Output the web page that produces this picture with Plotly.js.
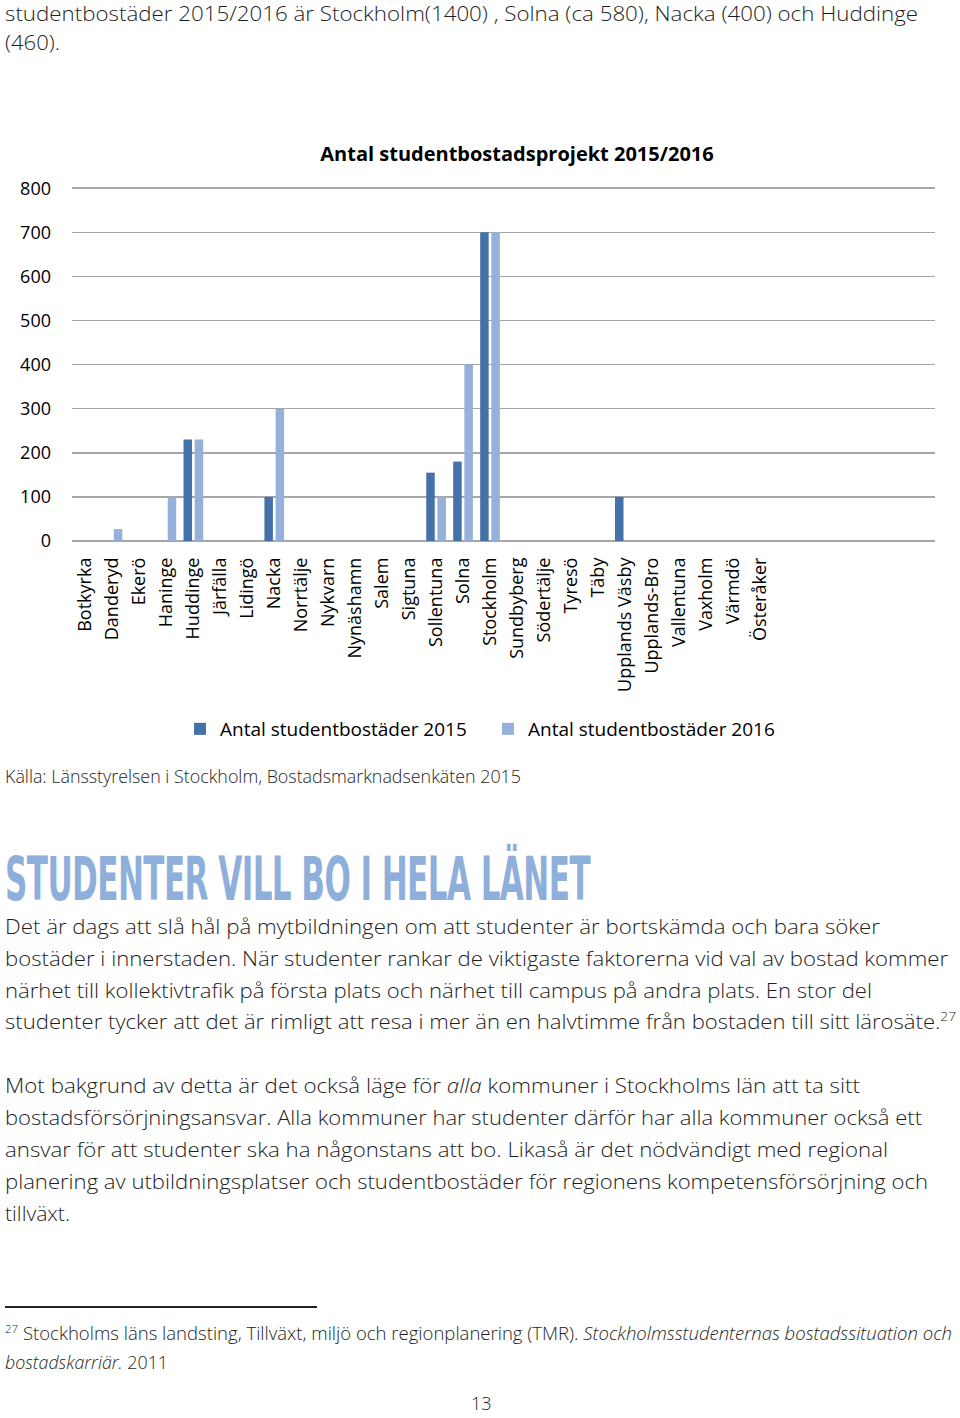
<!DOCTYPE html>
<html>
<head>
<meta charset="utf-8">
<script src="https://cdn.plot.ly/plotly-3.0.1.min.js"></script>
<style>
  html, body { margin: 0; padding: 0; background: #fff; }
  #page { position: relative; width: 960px; height: 1418px; overflow: hidden; background: #fff; }
  #chart { position: absolute; left: 0; top: 0; width: 960px; height: 760px; }
  .ln { position: absolute; left: 5px; white-space: nowrap; font-family: "Open Sans", sans-serif; font-weight: 300;
        font-size: 21px; line-height: 32px; color: #1e1e1e; transform-origin: 0 0; display: inline-block; }
  .fn { font-size: 18px; line-height: 26px; }
  #heading { position: absolute; left: 5px; top: 849px; white-space: nowrap; font-family: "Liberation Sans Narrow", "DejaVu Sans Condensed", sans-serif;
        font-weight: 700; font-size: 60px; line-height: 60px; color: #8fafdb; transform-origin: 0 0; display: inline-block; letter-spacing: -1px; }
  sup { font-size: 0.62em; line-height: 0; vertical-align: 0.6em; }
  #rule { position: absolute; left: 5px; top: 1306px; width: 312px; height: 2px; background: #222; }
</style>
</head>
<body>
<div id="page">
  <div id="chart"></div>

  <div class="ln" data-w="913" style="top:0px; line-height:26px;">studentbostäder 2015/2016 är Stockholm(1400) , Solna (ca 580), Nacka (400) och Huddinge</div>
  <div class="ln" data-w="55" style="top:26px;">(460).</div>

  <div class="ln" data-w="516" style="top:760px; font-size:19px;">Källa: Länsstyrelsen i Stockholm, Bostadsmarknadsenkäten 2015</div>

  <div id="heading" data-w="585">STUDENTER VILL BO I HELA LÄNET</div>

  <div class="ln" data-w="875" style="top:910px;">Det är dags att slå hål på mytbildningen om att studenter är bortskämda och bara söker</div>
  <div class="ln" data-w="943" style="top:942px;">bostäder i innerstaden. När studenter rankar de viktigaste faktorerna vid val av bostad kommer</div>
  <div class="ln" data-w="867" style="top:974px;">närhet till kollektivtrafik på första plats och närhet till campus på andra plats. En stor del</div>
  <div class="ln" data-w="951" style="top:1005px;">studenter tycker att det är rimligt att resa i mer än en halvtimme från bostaden till sitt lärosäte.<sup>27</sup></div>

  <div class="ln" data-w="855" style="top:1069px;">Mot bakgrund av detta är det också läge för <i>alla</i> kommuner i Stockholms län att ta sitt</div>
  <div class="ln" data-w="917" style="top:1101px;">bostadsförsörjningsansvar. Alla kommuner har studenter därför har alla kommuner också ett</div>
  <div class="ln" data-w="883" style="top:1133px;">ansvar för att studenter ska ha någonstans att bo. Likaså är det nödvändigt med regional</div>
  <div class="ln" data-w="923" style="top:1165px;">planering av utbildningsplatser och studentbostäder för regionens kompetensförsörjning och</div>
  <div class="ln" data-w="65" style="top:1197px;">tillväxt.</div>

  <div id="rule"></div>
  <div class="ln fn" data-w="947" style="top:1320px;"><sup>27</sup> Stockholms läns landsting, Tillväxt, miljö och regionplanering (TMR). <i>Stockholmsstudenternas bostadssituation och</i></div>
  <div class="ln fn" data-w="163" style="top:1349px;"><i>bostadskarriär.</i> 2011</div>

  <div class="ln fn" style="top:1394px; left:471px; line-height:18px;">13</div>
</div>

<script>
// ---- Data ----
const categories = ['Botkyrka','Danderyd','Ekerö','Haninge','Huddinge','Järfälla','Lidingö','Nacka','Norrtälje','Nykvarn',
  'Nynäshamn','Salem','Sigtuna','Sollentuna','Solna','Stockholm','Sundbyberg','Södertälje','Tyresö','Täby',
  'Upplands Väsby','Upplands-Bro','Vallentuna','Vaxholm','Värmdö','Österåker'];
const bostader2015 = [0,0,0,0,230,0,0,100,0,0,0,0,0,155,180,700,0,0,0,0,100,0,0,0,0,0];
const bostader2016 = [0,27,0,100,230,0,0,300,0,0,0,0,0,100,400,700,0,0,0,0,0,0,0,0,0,0];
const seriesNames = ['Antal studentbostäder 2015','Antal studentbostäder 2016'];
const chartTitle = 'Antal studentbostadsprojekt 2015/2016';
const yTicks = [0,100,200,300,400,500,600,700,800];

const idx = categories.map((c, i) => i);
const H = 760;

const traces = [
  { type: 'bar', name: seriesNames[0], x: idx, y: bostader2015, marker: { color: '#4571a9' }, hoverinfo: 'skip' },
  { type: 'bar', name: seriesNames[1], x: idx, y: bostader2016, marker: { color: '#95b0d9' }, hoverinfo: 'skip' }
];

const layout = {
  width: 960, height: H,
  paper_bgcolor: 'rgba(0,0,0,0)', plot_bgcolor: 'rgba(0,0,0,0)',
  margin: { l: 72, r: 25, t: 186, b: H - 541, pad: 0 },
  barmode: 'group', bargap: 0.17, bargroupgap: 0.24,
  title: { text: '<b>' + chartTitle + '</b>', xref: 'container', yref: 'container', x: 517/960, y: 1 - 154/H,
           xanchor: 'center', yanchor: 'middle',
           font: { family: '"Open Sans", sans-serif', size: 20, color: '#000' } },
  xaxis: { range: [-0.5, 31.5], tickmode: 'array', tickvals: idx, ticktext: categories, tickangle: -90,
           showgrid: false, zeroline: false, showline: false, ticks: '', ticklabelstandoff: 12,
           tickfont: { family: '"Open Sans", sans-serif', size: 18, color: '#000' }, fixedrange: true },
  yaxis: { range: [0, 805], tickmode: 'array', tickvals: yTicks, showgrid: true, gridcolor: '#a6a6a6', gridwidth: 1.5,
           zeroline: true, zerolinecolor: '#a6a6a6', zerolinewidth: 1.5, showline: false, ticks: '', ticklabelstandoff: 20,
           tickfont: { family: '"Open Sans", sans-serif', size: 18, color: '#000' }, fixedrange: true },
  showlegend: true,
  legend: { orientation: 'h', xref: 'container', yref: 'container', x: 180/960, y: 1 - 729/H, xanchor: 'left', yanchor: 'middle',
            font: { family: '"Open Sans", sans-serif', size: 19, color: '#000' }, entrywidth: 263, entrywidthmode: 'pixels',
            bgcolor: 'rgba(0,0,0,0)', borderwidth: 0 }
};

Plotly.newPlot('chart', traces, layout, { staticPlot: true, displayModeBar: false });

function fit() {
  document.querySelectorAll('[data-w]').forEach(el => {
    el.style.transform = 'none';
    const w = el.getBoundingClientRect().width;
    const target = parseFloat(el.getAttribute('data-w'));
    if (w > 0) el.style.transform = 'scaleX(' + (target / w) + ')';
  });
}
if (document.fonts && document.fonts.ready) document.fonts.ready.then(fit); else fit();
fit();
</script>
</body>
</html>
